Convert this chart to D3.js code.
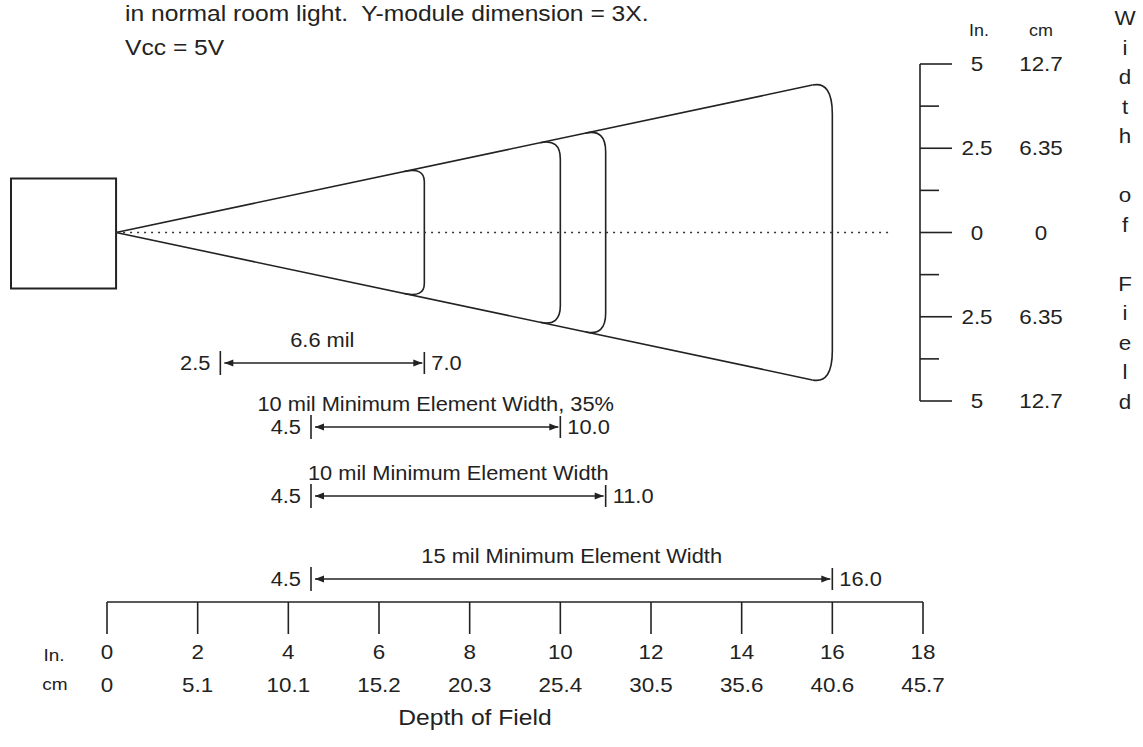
<!DOCTYPE html>
<html>
<head>
<meta charset="utf-8">
<script src="https://cdn.jsdelivr.net/npm/d3@7"></script>
<style>
    html, body { margin: 0; padding: 0; background: #fff; }
    svg { display: block; }
    text { font-family: "Liberation Sans", Arial, sans-serif; fill: #222; }
</style>
</head>
<body>
<div id="chart"></div>
<script>
    // depth of field (inches) with the matching cm labels
    var depthTicks = [0, 2, 4, 6, 8, 10, 12, 14, 16, 18];
    var depthCm = ["0", "5.1", "10.1", "15.2", "20.3", "25.4", "30.5", "35.6", "40.6", "45.7"];

    // width of field (inches) - labels are unsigned on the drawing
    var widthTicks = [5, 2.5, 0, -2.5, -5];
    var widthMinor = [3.75, 1.25, -1.25, -3.75];
    var widthIn = ["5", "2.5", "0", "2.5", "5"];
    var widthCm = ["12.7", "6.35", "0", "6.35", "12.7"];

    // read ranges per bar code density
    var rangeNames = ["6.6 mil", "10 mil Minimum Element Width, 35%", "10 mil Minimum Element Width", "15 mil Minimum Element Width"];
    var rangeNear = [2.5, 4.5, 4.5, 4.5];
    var rangeFar = [7.0, 10.0, 11.0, 16.0];

    // scan beam: leaves the scanner face and opens to this half width at the far end
    var beamApex = 0.2;
    var beamEnd = [16.0, 4.5];

    var titleLines = ["in normal room light.  Y-module dimension = 3X.", "Vcc = 5V"];
    var sideTitle = "Width of Field";

    var W = 1143, H = 747;
    var SX = 1.12; // the scanned lettering is a bit wider than Helvetica
    var ink = "#222";

    var svg = d3.select("#chart").append("svg")
        .attr("width", W)
        .attr("height", H);

    var x = d3.scaleLinear().domain([0, 18]).range([107, 923]);
    var y = d3.scaleLinear().domain([5, -5]).range([64, 401]);

    function label(g, px, py, s, size, anchor) {
        return g.append("text")
            .attr("transform", "translate(" + px + "," + py + ") scale(" + SX + ",1)")
            .attr("text-anchor", anchor || "middle")
            .attr("dy", "0.35em")
            .style("font-size", size + "px")
            .style("white-space", "pre")
            .text(s);
    }

    // heading text
    var head = svg.append("g");
    label(head, 125, 13, titleLines[0], 22, "start");
    label(head, 125, 47, titleLines[1], 22, "start");

    // scanner box
    var y0 = y(0);
    svg.append("rect")
        .attr("x", 11)
        .attr("y", y0 - 54)
        .attr("width", x(beamApex) - 11)
        .attr("height", 110)
        .attr("fill", "none")
        .attr("stroke", ink)
        .attr("stroke-width", 2);

    // beam edges
    var slope = (y(beamEnd[1]) - y0) / (x(beamEnd[0]) - x(beamApex));
    function yUp(px) { return y0 + slope * (px - x(beamApex)); }
    function yDn(px) { return y0 - slope * (px - x(beamApex)); }

    var rx = 20;
    var beam = svg.append("g")
        .attr("fill", "none")
        .attr("stroke", ink)
        .attr("stroke-width", 1.6);

    var xEnd = x(d3.max(rangeFar)) - rx;
    beam.append("line")
        .attr("x1", x(beamApex)).attr("y1", y0)
        .attr("x2", xEnd).attr("y2", yUp(xEnd));
    beam.append("line")
        .attr("x1", x(beamApex)).attr("y1", y0)
        .attr("x2", xEnd).attr("y2", yDn(xEnd));

    // rounded end of each read zone
    beam.selectAll("path.zone")
        .data(rangeFar)
        .enter()
        .append("path")
        .attr("class", "zone")
        .attr("d", function (d) {
            var xf = x(d);
            var half = y0 - yUp(xf);
            var ry = half * 0.22;
            var p = d3.path();
            p.moveTo(xf - rx, yUp(xf - rx));
            p.quadraticCurveTo(xf, yUp(xf), xf, yUp(xf) + ry);
            p.lineTo(xf, yDn(xf) - ry);
            p.quadraticCurveTo(xf, yDn(xf), xf - rx, yDn(xf - rx));
            return p.toString();
        });

    // centre line
    svg.append("line")
        .attr("x1", x(beamApex)).attr("y1", y0)
        .attr("x2", 893).attr("y2", y0)
        .attr("stroke", "#333")
        .attr("stroke-width", 1.5)
        .attr("stroke-dasharray", "2,5");

    // range bars
    var rowY = [363, 427, 496, 579];
    var bars = svg.append("g");
    rangeNames.forEach(function (name, i) {
        var ry = rowY[i];
        var x1 = x(rangeNear[i]), x2 = x(rangeFar[i]);
        var g = bars.append("g");
        g.append("line")
            .attr("x1", x1).attr("y1", ry - 12).attr("x2", x1).attr("y2", ry + 12)
            .attr("stroke", ink).attr("stroke-width", 1.6);
        g.append("line")
            .attr("x1", x2).attr("y1", ry - 11).attr("x2", x2).attr("y2", ry + 11)
            .attr("stroke", ink).attr("stroke-width", 1.6);
        g.append("line")
            .attr("x1", x1 + 4).attr("y1", ry).attr("x2", x2 - 2).attr("y2", ry)
            .attr("stroke", ink).attr("stroke-width", 1.3);
        g.append("path")
            .attr("d", "M" + (x1 + 4) + "," + ry + "L" + (x1 + 13) + "," + (ry - 3.5) + "L" + (x1 + 13) + "," + (ry + 3.5) + "Z")
            .attr("fill", ink);
        g.append("path")
            .attr("d", "M" + (x2 - 2) + "," + ry + "L" + (x2 - 11) + "," + (ry - 3.5) + "L" + (x2 - 11) + "," + (ry + 3.5) + "Z")
            .attr("fill", ink);
        label(g, x1 - 10, ry, d3.format(".1f")(rangeNear[i]), 19.5, "end");
        label(g, x2 + 7, ry, d3.format(".1f")(rangeFar[i]), 19.5, "start");
        label(g, (x1 + x2) / 2, ry - 23, name, 19.5, "middle");
    });

    // width of field scale (right)
    var axisX = 920;
    var wAxis = svg.append("g");
    wAxis.append("line")
        .attr("x1", axisX).attr("y1", y(5)).attr("x2", axisX).attr("y2", y(-5))
        .attr("stroke", ink).attr("stroke-width", 1.6);
    wAxis.selectAll("line.major")
        .data(widthTicks)
        .enter()
        .append("line")
        .attr("class", "major")
        .attr("x1", axisX).attr("x2", axisX + 32)
        .attr("y1", function (d) { return y(d); })
        .attr("y2", function (d) { return y(d); })
        .attr("stroke", ink).attr("stroke-width", 1.6);
    wAxis.selectAll("line.minor")
        .data(widthMinor)
        .enter()
        .append("line")
        .attr("class", "minor")
        .attr("x1", axisX).attr("x2", axisX + 19)
        .attr("y1", function (d) { return y(d); })
        .attr("y2", function (d) { return y(d); })
        .attr("stroke", ink).attr("stroke-width", 1.6);
    widthTicks.forEach(function (d, i) {
        label(wAxis, 977, y(d), widthIn[i], 20, "middle");
        label(wAxis, 1041, y(d), widthCm[i], 20, "middle");
    });
    label(wAxis, 979, 30, "In.", 16, "middle");
    label(wAxis, 1041, 30, "cm", 16, "middle");

    sideTitle.split("").forEach(function (c, i) {
        if (c !== " ") label(svg, 1125, 18 + i * 29.5, c, 20, "middle");
    });

    // depth of field scale (bottom)
    var axisY = 602;
    var dAxis = svg.append("g");
    dAxis.append("line")
        .attr("x1", x(0)).attr("y1", axisY).attr("x2", x(18)).attr("y2", axisY)
        .attr("stroke", ink).attr("stroke-width", 1.6);
    dAxis.selectAll("line.tick")
        .data(depthTicks)
        .enter()
        .append("line")
        .attr("class", "tick")
        .attr("x1", function (d) { return x(d); })
        .attr("x2", function (d) { return x(d); })
        .attr("y1", axisY).attr("y2", axisY + 32)
        .attr("stroke", ink).attr("stroke-width", 1.6);
    depthTicks.forEach(function (d, i) {
        label(dAxis, x(d), 652, String(d), 20, "middle");
        label(dAxis, x(d), 685, depthCm[i], 20, "middle");
    });
    label(dAxis, 54, 655, "In.", 17, "middle");
    label(dAxis, 55, 684, "cm", 17, "middle");
    label(dAxis, 475, 717, "Depth of Field", 22, "middle");
</script>
</body>
</html>
